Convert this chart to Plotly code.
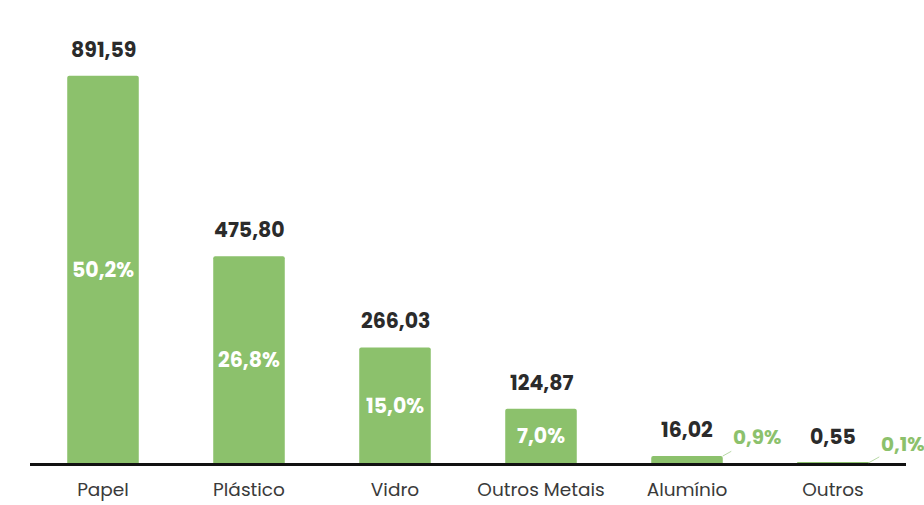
import plotly.graph_objects as go

# Material categories, tonnage values and share of total
categories = ["Papel", "Plástico", "Vidro", "Outros Metais", "Alumínio", "Outros"]
values = [891.59, 475.80, 266.03, 124.87, 16.02, 0.55]
shares = [50.2, 26.8, 15.0, 7.0, 0.9, 0.1]

GREEN = "#8cc16c"
DARK = "#2b2b2b"
FONT = "Poppins, Inter, Lato, sans-serif"


def br(num, dec):
    """Format a number with a decimal comma."""
    return f"{num:.{dec}f}".replace(".", ",")


fig = go.Figure(
    go.Bar(
        x=categories,
        y=values,
        marker=dict(color=GREEN, line=dict(width=0), cornerradius=2),
        width=0.49,
        hoverinfo="skip",
    )
)

annotations = []
for i, (cat, v, s) in enumerate(zip(categories, values, shares)):
    # value above each bar
    annotations.append(dict(
        x=cat, y=v, text=f"<b>{br(v, 2)}</b>", showarrow=False,
        yanchor="bottom", yshift=10,
        font=dict(family=FONT, size=20.5, color=DARK),
    ))
    if v > 100:
        # share inside the bar
        annotations.append(dict(
            x=cat, y=v / 2, text=f"<b>{br(s, 1)}%</b>", showarrow=False,
            font=dict(family=FONT, size=20.5, color="white"),
        ))
    else:
        # share outside with a leader line
        annotations.append(dict(
            x=i + 0.245, y=v, xref="x", yref="y",
            text=f"<b>{br(s, 1)}%</b>", showarrow=True, arrowhead=0,
            arrowwidth=1, arrowcolor="#b8d9a6", ax=34, ay=-19,
            font=dict(family=FONT, size=20, color=GREEN),
        ))

fig.update_layout(
    width=924,
    height=505,
    margin=dict(l=30, r=18, t=20, b=42, autoexpand=False),
    paper_bgcolor="white",
    plot_bgcolor="white",
    showlegend=False,
    bargap=0.51,
    annotations=annotations,
    xaxis=dict(
        range=[-0.5, 5.5],
        automargin=False,
        showgrid=False,
        showline=True,
        linecolor="#111111",
        linewidth=2.5,
        ticks="",
        ticklabelstandoff=8,
        tickfont=dict(family=FONT, size=18.5, color="#3a3a3a"),
    ),
    yaxis=dict(
        range=[0, 1020],
        visible=False,
        automargin=False,
        showgrid=False,
        zeroline=False,
    ),
)

fig.write_html("out.html")
